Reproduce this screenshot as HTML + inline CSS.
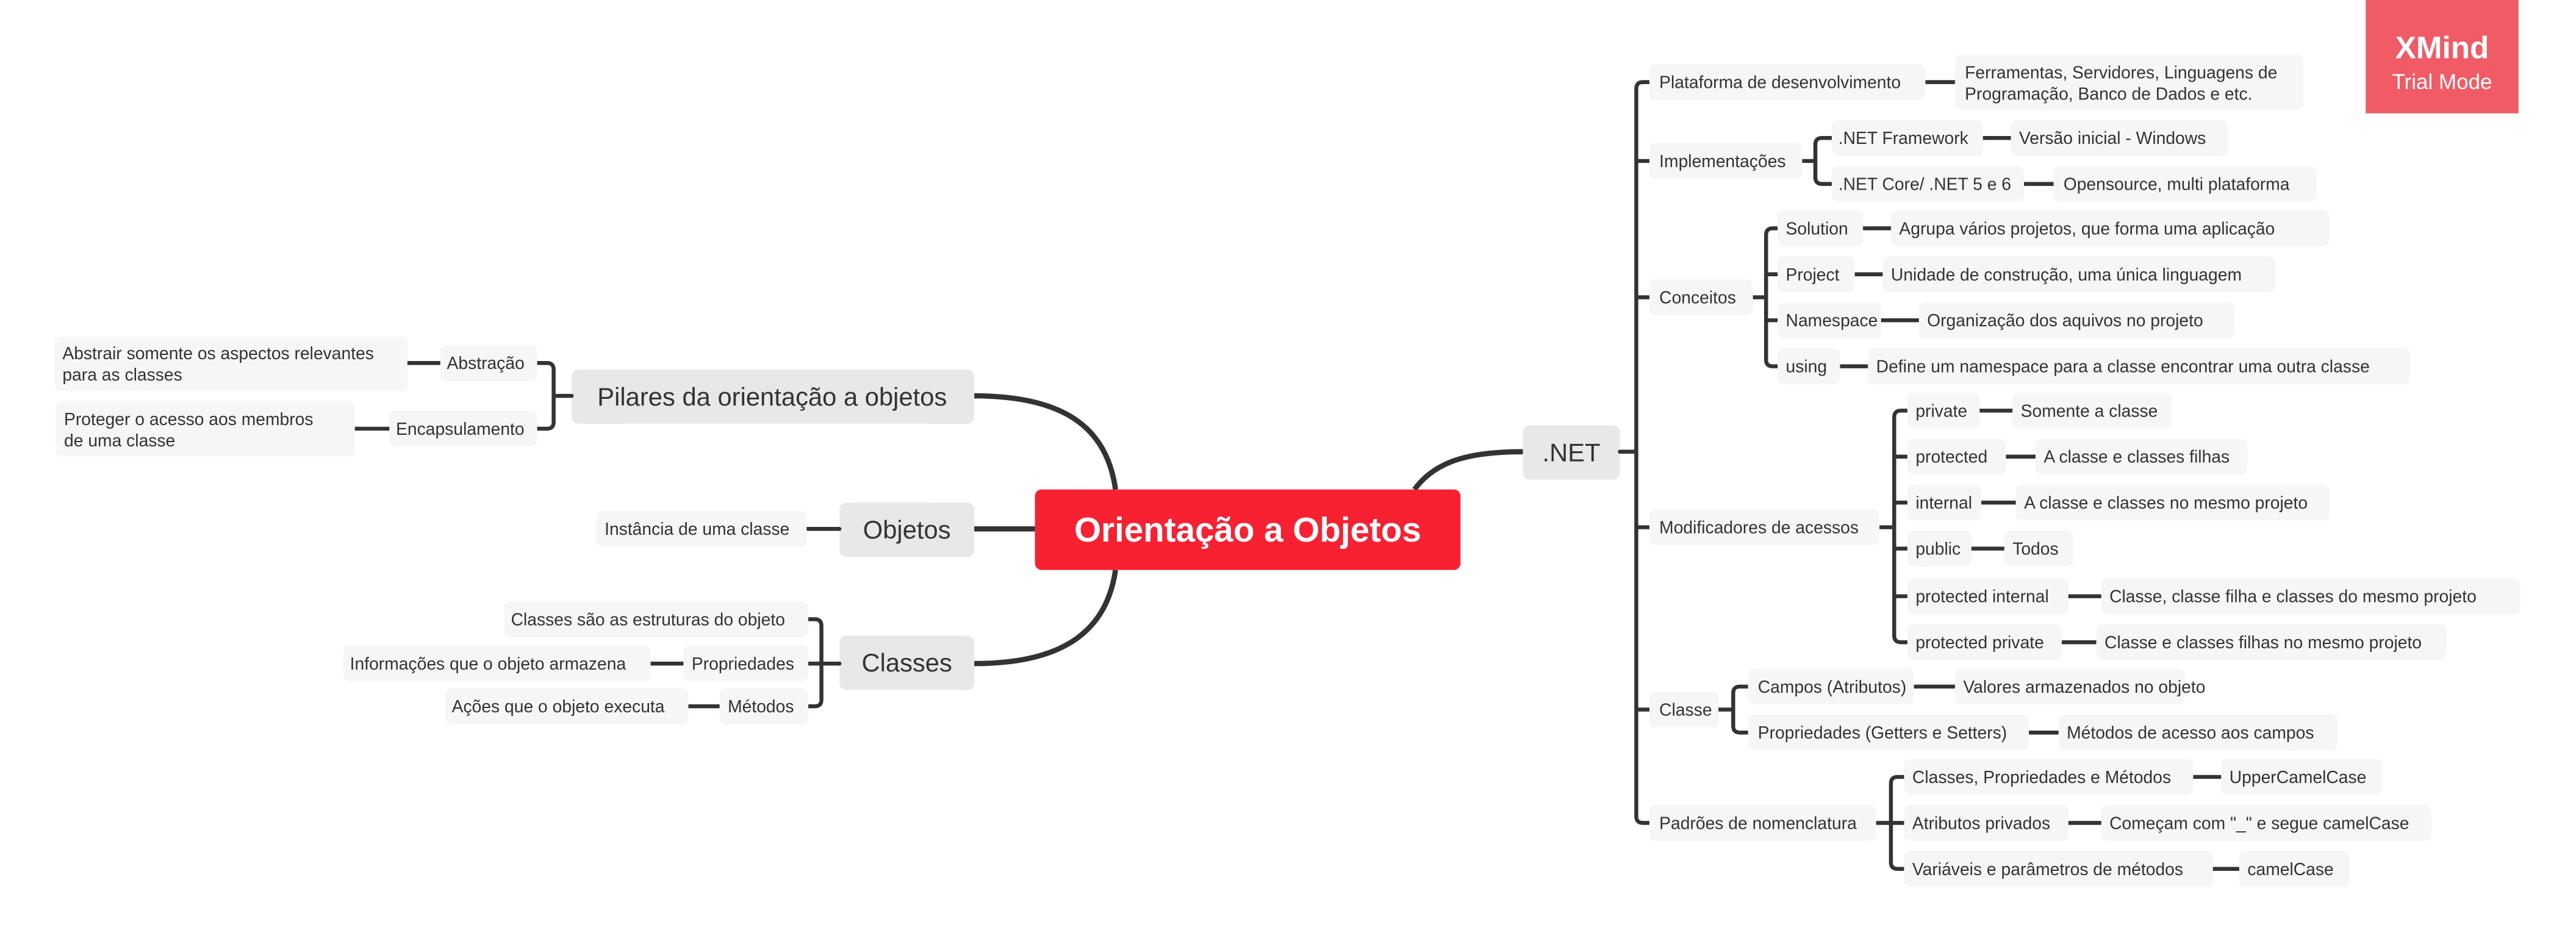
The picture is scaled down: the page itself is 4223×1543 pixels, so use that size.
<!DOCTYPE html>
<html><head><meta charset="utf-8"><style>
html,body{margin:0;padding:0;background:#fff;width:4223px;height:1543px;overflow:hidden}
svg{display:block}
text{font-family:"Liberation Sans",sans-serif;fill:#333;font-size:10.5px;dominant-baseline:central}
.b{fill:#f6f6f6}.m{fill:#e8e8e8}
.l{stroke:#333;stroke-width:2.4;fill:none;stroke-linecap:round}
.t{stroke:#333;stroke-width:3.2;fill:none}
</style></head><body>
<svg width="4223" height="1543" viewBox="0 0 1568 572.9" preserveAspectRatio="none">
<!-- main curves -->
<path class="t" d="M593,241 C650,241 674,262 679,298"/>
<path class="t" d="M593,322 H630"/>
<path class="t" d="M593,404 C650,404 674,382 679,347"/>
<path class="t" d="M861,298 C874,280 896,275 927,275"/>
<!-- central -->
<rect x="630" y="298" width="259" height="49" rx="4" fill="#f72131"/>
<text x="759.5" y="322.5" text-anchor="middle" style="fill:#fff;font-size:21px;font-weight:bold">Orientação a Objetos</text>
<!-- level 1 -->
<rect class="m" x="348" y="225" width="245" height="33" rx="4"/><text x="470" y="241.5" text-anchor="middle" style="font-size:15.5px">Pilares da orientação a objetos</text>
<rect class="m" x="511" y="306" width="82" height="33" rx="4"/><text x="552" y="322.5" text-anchor="middle" style="font-size:15.5px">Objetos</text>
<rect class="m" x="511" y="387" width="82" height="33" rx="4"/><text x="552" y="403.5" text-anchor="middle" style="font-size:15.5px">Classes</text>
<rect class="m" x="927" y="259" width="59" height="33" rx="4"/><text x="956.5" y="275.5" text-anchor="middle" style="font-size:15.5px">.NET</text>

<!-- left brackets -->
<path class="l" d="M327,221 H333 Q337,221 337,225 V257 Q337,261 333,261 H327 M337,241 H348"/>
<path class="l" d="M492,377 H496 Q500,377 500,381 V426 Q500,430 496,430 H492 M500,404 H511 M492,404 H500"/>
<path class="l" d="M248,221 H268 M216,261 H237 M491,322 H511 M396,404 H416 M419,430 H438"/>
<!-- left nodes -->
<rect class="b" x="268" y="210" width="59" height="22" rx="4"/><text x="272" y="221">Abstração</text>
<rect class="b" x="237" y="250" width="90" height="22" rx="4"/><text x="241" y="261">Encapsulamento</text>
<rect class="b" x="33" y="205" width="215" height="33" rx="4"/><text x="38" y="215">Abstrair somente os aspectos relevantes</text><text x="38" y="228">para as classes</text>
<rect class="b" x="34" y="244" width="182" height="34" rx="4"/><text x="39" y="255">Proteger o acesso aos membros</text><text x="39" y="268">de uma classe</text>
<rect class="b" x="363" y="311" width="128" height="22" rx="4"/><text x="368" y="322">Instância de uma classe</text>
<rect class="b" x="307" y="366" width="185" height="22" rx="4"/><text x="311" y="377">Classes são as estruturas do objeto</text>
<rect class="b" x="416" y="393" width="76" height="22" rx="4"/><text x="421" y="404">Propriedades</text>
<rect class="b" x="209" y="393" width="187" height="22" rx="4"/><text x="213" y="404">Informações que o objeto armazena</text>
<rect class="b" x="438" y="419" width="54" height="22" rx="4"/><text x="443" y="430">Métodos</text>
<rect class="b" x="271" y="419" width="148" height="22" rx="4"/><text x="275" y="430">Ações que o objeto executa</text>

<!-- right main bracket -->
<path class="l" d="M986,275 H996 M1004,50 H1000 Q996,50 996,54 V497 Q996,501 1000,501 H1004 M996,98 H1004 M996,181 H1004 M996,321 H1004 M996,432 H1004"/>
<!-- sub brackets -->
<path class="l" d="M1097,98 H1105 M1115,84 H1109 Q1105,84 1105,88 V108 Q1105,112 1109,112 H1115"/>
<path class="l" d="M1067,181 H1075 M1082,139 H1079 Q1075,139 1075,143 V219 Q1075,223 1079,223 H1082 M1075,167 H1082 M1075,195 H1082"/>
<path class="l" d="M1144,321 H1153 M1161,250 H1157 Q1153,250 1153,254 V387 Q1153,391 1157,391 H1161 M1153,278 H1161 M1153,306 H1161 M1153,334 H1161 M1153,363 H1161"/>
<path class="l" d="M1046,432 H1055 M1064,418 H1059 Q1055,418 1055,422 V442 Q1055,446 1059,446 H1064"/>
<path class="l" d="M1142,501 H1151 M1159,473 H1155 Q1151,473 1151,477 V525 Q1151,529 1155,529 H1159 M1151,501 H1159"/>
<!-- leaf connectors -->
<path class="l" d="M1172,50 H1190 M1207,84 H1224 M1232,112 H1250 M1134,139 H1151 M1129,167 H1146 M1145,195 H1168 M1120,223 H1137 M1205,250 H1225 M1221,278 H1239 M1206,306 H1227 M1200,334 H1220 M1259,363 H1279 M1255,391 H1276 M1165,418 H1190 M1235,446 H1253 M1335,473 H1352 M1259,501 H1279 M1347,529 H1363"/>

<!-- right nodes -->
<rect class="b" x="1004" y="39" width="168" height="22" rx="4"/><text x="1010" y="50">Plataforma de desenvolvimento</text>
<rect class="b" x="1190" y="33" width="212" height="34" rx="4"/><text x="1196" y="44">Ferramentas, Servidores, Linguagens de</text><text x="1196" y="57">Programação, Banco de Dados e etc.</text>
<rect class="b" x="1004" y="87" width="93" height="22" rx="4"/><text x="1010" y="98">Implementações</text>
<rect class="b" x="1115" y="73" width="92" height="22" rx="4"/><text x="1119" y="84">.NET Framework</text>
<rect class="b" x="1224" y="73" width="132" height="22" rx="4"/><text x="1229" y="84">Versão inicial - Windows</text>
<rect class="b" x="1115" y="101" width="117" height="22" rx="4"/><text x="1119" y="112">.NET Core/ .NET 5 e 6</text>
<rect class="b" x="1250" y="101" width="160" height="22" rx="4"/><text x="1256" y="112">Opensource, multi plataforma</text>
<rect class="b" x="1004" y="170" width="63" height="22" rx="4"/><text x="1010" y="181">Conceitos</text>
<rect class="b" x="1082" y="128" width="52" height="22" rx="4"/><text x="1087" y="139">Solution</text>
<rect class="b" x="1151" y="128" width="267" height="22" rx="4"/><text x="1156" y="139">Agrupa vários projetos, que forma uma aplicação</text>
<rect class="b" x="1082" y="156" width="47" height="22" rx="4"/><text x="1087" y="167">Project</text>
<rect class="b" x="1146" y="156" width="239" height="22" rx="4"/><text x="1151" y="167">Unidade de construção, uma única linguagem</text>
<rect class="b" x="1082" y="184" width="63" height="22" rx="4"/><text x="1087" y="195">Namespace</text>
<rect class="b" x="1168" y="184" width="192" height="22" rx="4"/><text x="1173" y="195">Organização dos aquivos no projeto</text>
<rect class="b" x="1082" y="212" width="38" height="22" rx="4"/><text x="1087" y="223">using</text>
<rect class="b" x="1137" y="212" width="330" height="22" rx="4"/><text x="1142" y="223">Define um namespace para a classe encontrar uma outra classe</text>
<rect class="b" x="1004" y="310" width="140" height="22" rx="4"/><text x="1010" y="321">Modificadores de acessos</text>
<rect class="b" x="1161" y="239" width="44" height="22" rx="4"/><text x="1166" y="250">private</text>
<rect class="b" x="1225" y="239" width="97" height="22" rx="4"/><text x="1230" y="250">Somente a classe</text>
<rect class="b" x="1161" y="267" width="60" height="22" rx="4"/><text x="1166" y="278">protected</text>
<rect class="b" x="1239" y="267" width="129" height="22" rx="4"/><text x="1244" y="278">A classe e classes filhas</text>
<rect class="b" x="1161" y="295" width="45" height="22" rx="4"/><text x="1166" y="306">internal</text>
<rect class="b" x="1227" y="295" width="191" height="22" rx="4"/><text x="1232" y="306">A classe e classes no mesmo projeto</text>
<rect class="b" x="1161" y="323" width="39" height="22" rx="4"/><text x="1166" y="334">public</text>
<rect class="b" x="1220" y="323" width="42" height="22" rx="4"/><text x="1225" y="334">Todos</text>
<rect class="b" x="1161" y="352" width="98" height="22" rx="4"/><text x="1166" y="363">protected internal</text>
<rect class="b" x="1279" y="352" width="255" height="22" rx="4"/><text x="1284" y="363">Classe, classe filha e classes do mesmo projeto</text>
<rect class="b" x="1161" y="380" width="94" height="22" rx="4"/><text x="1166" y="391">protected private</text>
<rect class="b" x="1276" y="380" width="213" height="22" rx="4"/><text x="1281" y="391">Classe e classes filhas no mesmo projeto</text>
<rect class="b" x="1004" y="421" width="42" height="22" rx="4"/><text x="1010" y="432">Classe</text>
<rect class="b" x="1064" y="407" width="101" height="22" rx="4"/><text x="1070" y="418">Campos (Atributos)</text>
<rect class="b" x="1190" y="407" width="140" height="22" rx="4"/><text x="1195" y="418">Valores armazenados no objeto</text>
<rect class="b" x="1064" y="435" width="171" height="22" rx="4"/><text x="1070" y="446">Propriedades (Getters e Setters)</text>
<rect class="b" x="1253" y="435" width="170" height="22" rx="4"/><text x="1258" y="446">Métodos de acesso aos campos</text>
<rect class="b" x="1004" y="490" width="138" height="22" rx="4"/><text x="1010" y="501">Padrões de nomenclatura</text>
<rect class="b" x="1159" y="462" width="176" height="22" rx="4"/><text x="1164" y="473">Classes, Propriedades e Métodos</text>
<rect class="b" x="1352" y="462" width="98" height="22" rx="4"/><text x="1357" y="473">UpperCamelCase</text>
<rect class="b" x="1159" y="490" width="100" height="22" rx="4"/><text x="1164" y="501">Atributos privados</text>
<rect class="b" x="1279" y="490" width="201" height="22" rx="4"/><text x="1284" y="501">Começam com "_" e segue camelCase</text>
<rect class="b" x="1159" y="518" width="188" height="22" rx="4"/><text x="1164" y="529">Variáveis e parâmetros de métodos</text>
<rect class="b" x="1363" y="518" width="67" height="22" rx="4"/><text x="1368" y="529">camelCase</text>

<!-- XMind badge -->
<rect x="1440" y="0" width="93" height="69" fill="#f15b66"/>
<text x="1486.5" y="29" text-anchor="middle" style="fill:#fff;font-size:19px;font-weight:bold">XMind</text>
<text x="1486.5" y="50" text-anchor="middle" style="fill:#fff;font-size:13px">Trial Mode</text>
</svg>
</body></html>
